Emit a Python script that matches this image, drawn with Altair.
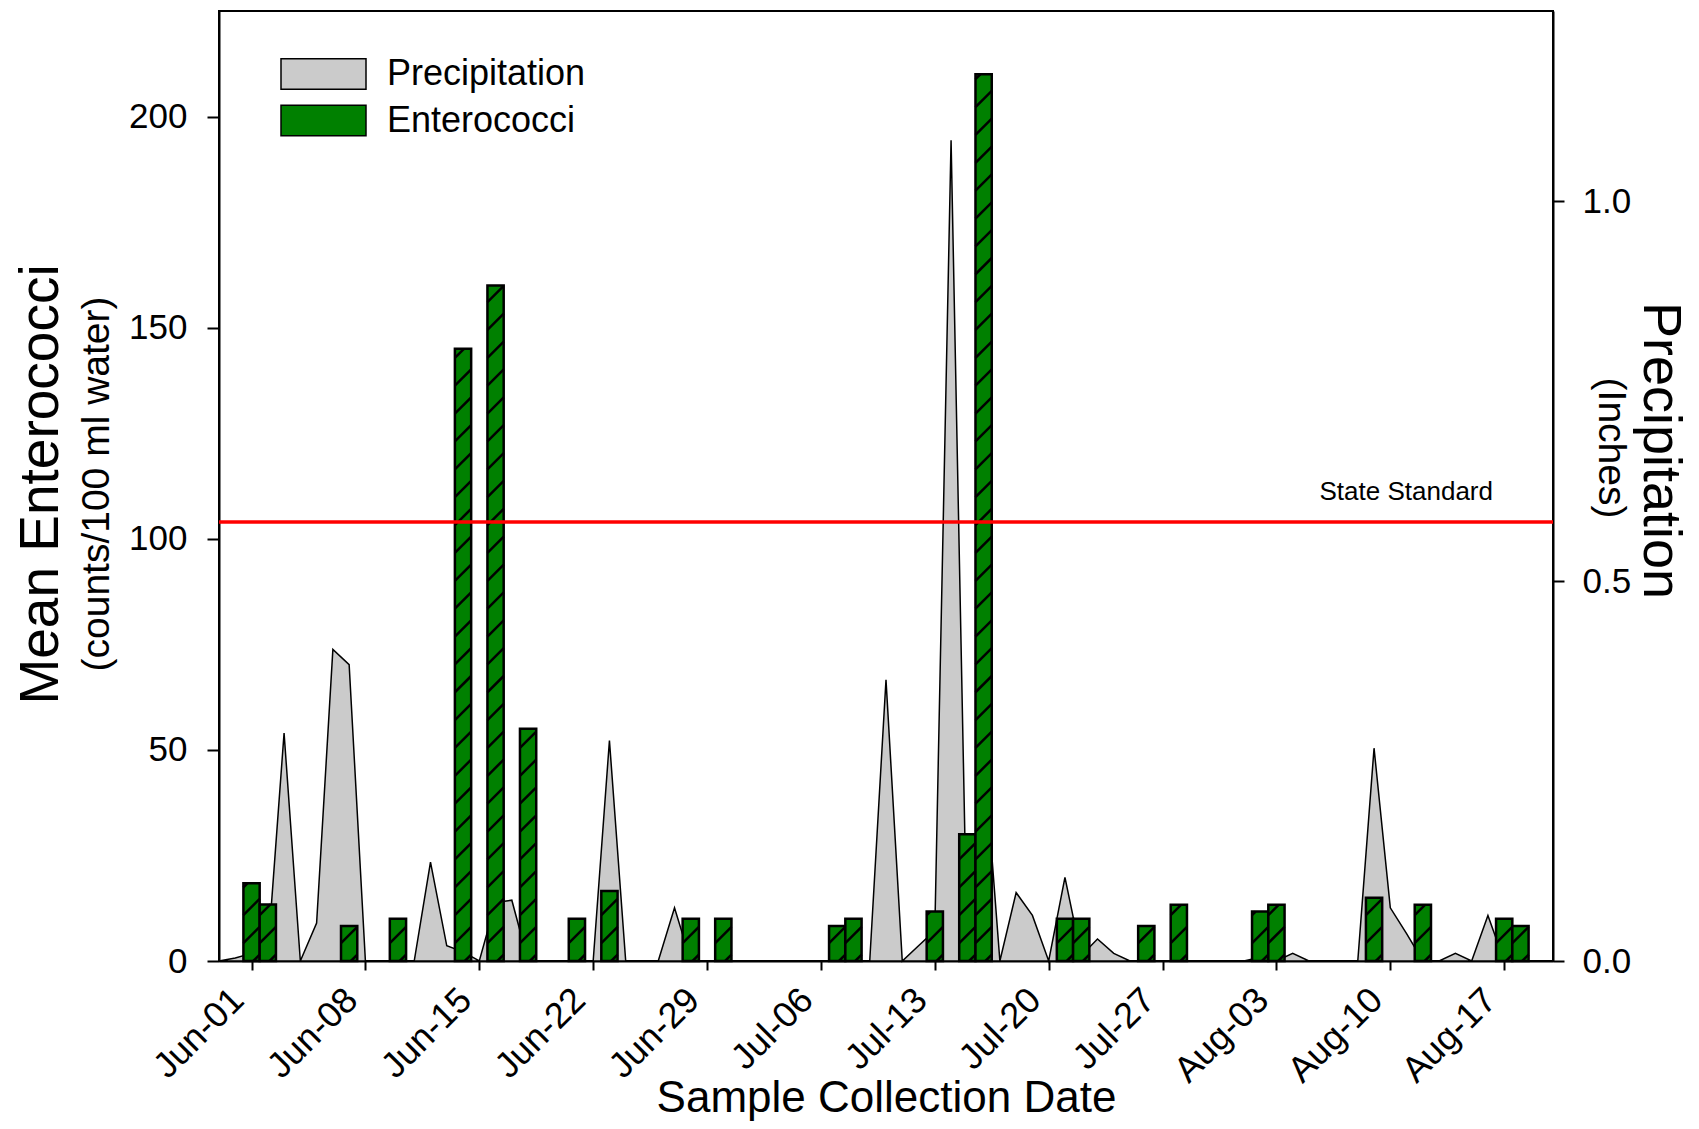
import altair as alt
import pandas as pd

FONT = "Liberation Sans"
YEAR = 2010

# ---------------- data ----------------
entero_dates = ["06-01", "06-02", "06-07", "06-10", "06-14", "06-16", "06-18", "06-21",
                "06-23", "06-28", "06-30", "07-07", "07-08", "07-13", "07-15", "07-16",
                "07-21", "07-22", "07-26", "07-28", "08-02", "08-03", "08-09", "08-12",
                "08-17", "08-18"]
entero_values = [18.4, 13.4, 8.3, 10, 145, 160, 55, 10,
                 16.6, 10, 10, 8.3, 10, 11.7, 30, 210,
                 10, 10, 8.3, 13.3, 11.7, 13.3, 15, 13.3,
                 10, 8.3]

precip_first_day = "05-30"
precip_values = [
    # May 30-31
    0, 0.004,
    # June 1-30
    0.01, 0.01, 0.30, 0, 0.05, 0.41, 0.39, 0, 0, 0,
    0, 0.13, 0.02, 0.012, 0, 0.077, 0.08, 0, 0, 0,
    0, 0, 0.29, 0, 0, 0, 0.07, 0, 0, 0,
    # July 1-31
    0, 0, 0, 0, 0, 0, 0, 0, 0, 0.37,
    0, 0.02, 0.04, 1.08, 0, 0.28, 0, 0.09, 0.06, 0,
    0.11, 0.007, 0.029, 0.01, 0, 0, 0, 0, 0, 0, 0,
    # August 1-20
    0, 0.005, 0, 0.01, 0, 0, 0, 0, 0.28, 0.07,
    0.036, 0, 0, 0.01, 0, 0.06, 0, 0, 0, 0,
]

tick_dates = ["06-01", "06-08", "06-15", "06-22", "06-29", "07-06", "07-13",
              "07-20", "07-27", "08-03", "08-10", "08-17"]
x_domain = ["05-30", "08-20"]
entero_ticks = [0, 50, 100, 150, 200]
entero_domain = [0, 225]
precip_ticks = [0, 0.5, 1.0]
precip_domain = [0, 1.25]
STATE_STANDARD = 104

series_names = ["Precipitation", "Enterococci"]
series_colors = ["#cbcbcb", "#008000"]

# ---------------- helpers ----------------
def ts(md):
    return pd.Timestamp(f"{YEAR}-{md}")

def iso(t):
    return t.strftime("%Y-%m-%dT%H:%M:%S")

def dt(md):
    m, d = md.split("-")
    return alt.DateTime(year=YEAR, month=int(m), date=int(d))

DAY = pd.Timedelta(days=1)

precip_df = pd.DataFrame({
    "date": [iso(d) for d in pd.date_range(ts(precip_first_day), periods=len(precip_values), freq="D")],
    "precip": precip_values,
    "series": "Precipitation",
})

bar_df = pd.DataFrame({
    "start": [iso(ts(m) - DAY / 2) for m in entero_dates],
    "end": [iso(ts(m) + DAY / 2) for m in entero_dates],
    "count": entero_values,
    "series": "Enterococci",
})

# diagonal hatch lines inside each bar (style pattern, derived from the bar values)
HATCH_STEP = 6.6
HATCH_RISE = 3.85
hatch_rows = []
for m, v in zip(entero_dates, entero_values):
    left = ts(m) - DAY / 2
    k = 0
    while True:
        ys = k * HATCH_STEP - HATCH_RISE + 1.5
        if ys >= v:
            break
        t0 = max(0.0, -ys / HATCH_RISE)
        t1 = min(1.0, (v - ys) / HATCH_RISE)
        if t1 > t0:
            hatch_rows.append({
                "x0": iso(left + t0 * DAY), "x1": iso(left + t1 * DAY),
                "y0": ys + t0 * HATCH_RISE, "y1": ys + t1 * HATCH_RISE,
            })
        k += 1
hatch_df = pd.DataFrame(hatch_rows)

std_df = pd.DataFrame({"standard": [STATE_STANDARD], "label": ["State Standard"]})

# ---------------- scales / axes ----------------
xscale = alt.Scale(domain=[dt(x_domain[0]), dt(x_domain[1])], nice=False)
y_ent = alt.Scale(domain=entero_domain, nice=False, zero=True)
y_pre = alt.Scale(domain=precip_domain, nice=False, zero=True)
color_scale = alt.Scale(domain=series_names, range=series_colors)

legend = alt.Legend(
    title=None, orient="none", legendX=61, legendY=46, padding=0,
    symbolType="M-1,-0.36L1,-0.36L1,0.36L-1,0.36Z", symbolSize=7225,
    symbolStrokeColor="black", symbolStrokeWidth=1.5, symbolOpacity=1,
    labelFontSize=36, labelFont=FONT, labelColor="black", labelOffset=20,
    labelLimit=500, clipHeight=34, rowPadding=10.5,
)

x_axis = alt.Axis(
    values=[dt(t) for t in tick_dates], format="%b-%d",
    labelAngle=315, labelAlign="right", labelBaseline="middle",
    labelFontSize=36, labelPadding=24, labelOffset=-14, tickSize=9, tickWidth=2, domainWidth=2,
    title="Sample Collection Date", titleFontSize=44, titleX=667, titleY=150,
    titleBaseline="alphabetic", titleAlign="center", grid=False,
)

ent_axis = alt.Axis(
    orient="left", values=entero_ticks, tickSize=12, tickWidth=2, domainWidth=2,
    labelFontSize=35, labelPadding=20, grid=False,
    title="Mean Enterococci", titleFontSize=55, titleAngle=270, titleAlign="center",
    titleBaseline="alphabetic", titleX=-162, titleY=473,
)

pre_axis = alt.Axis(
    orient="right", values=precip_ticks, format=".1f", tickSize=11, tickWidth=2, domainWidth=2,
    labelFontSize=35, labelPadding=18, grid=False,
    title="Precipitation", titleFontSize=54, titleAngle=90, titleAlign="center",
    titleBaseline="alphabetic", titleX=90, titleY=439,
)

# ---------------- layers ----------------
precip_area = alt.Chart(precip_df).mark_area(
    stroke="black", strokeWidth=1.5, interpolate="linear", opacity=1
).encode(
    x=alt.X("date:T", scale=xscale, axis=x_axis),
    y=alt.Y("precip:Q", scale=y_pre, axis=pre_axis),
    color=alt.Color("series:N", scale=color_scale, legend=legend),
)

bars = alt.Chart(bar_df).mark_bar(stroke="black", strokeWidth=2.5, opacity=1).encode(
    x=alt.X("start:T", scale=xscale, axis=x_axis),
    x2="end:T",
    y=alt.Y("count:Q", scale=y_ent, axis=ent_axis),
    y2=alt.datum(0),
    color=alt.Color("series:N", scale=color_scale, legend=legend),
)

hatch = alt.Chart(hatch_df).mark_rule(color="black", strokeWidth=2.5).encode(
    x=alt.X("x0:T", scale=xscale, axis=x_axis),
    x2="x1:T",
    y=alt.Y("y0:Q", scale=y_ent, axis=ent_axis),
    y2="y1:Q",
)

std_rule = alt.Chart(std_df).mark_rule(color="#ff0000", strokeWidth=3.5).encode(
    y=alt.Y("standard:Q", scale=y_ent, axis=ent_axis),
)

std_text = alt.Chart(std_df).mark_text(
    align="right", baseline="alphabetic", dy=-22, fontSize=26, font=FONT, color="black"
).encode(
    x=alt.value(1274),
    y=alt.Y("standard:Q", scale=y_ent, axis=ent_axis),
    text="label:N",
)

sub_df_left = pd.DataFrame({"t": ["(counts/100 ml water)"]})
sub_df_right = pd.DataFrame({"t": ["(Inches)"]})

sub_left = alt.Chart(sub_df_left).mark_text(
    angle=270, align="center", baseline="middle", fontSize=39, font=FONT, color="black"
).encode(x=alt.value(-122), y=alt.value(473), text="t:N")

sub_right = alt.Chart(sub_df_right).mark_text(
    angle=90, align="center", baseline="middle", fontSize=39, font=FONT, color="black"
).encode(x=alt.value(1392), y=alt.value(437), text="t:N")

entero_group = alt.layer(bars, hatch, std_rule, std_text, sub_left, sub_right)

chart = alt.layer(precip_area, entero_group).resolve_scale(y="independent").properties(
    width=1334, height=950,
    autosize=alt.AutoSizeParams(type="none"),
    padding={"left": 211, "top": 3, "right": 138, "bottom": 160},
).configure(font=FONT).configure_view(
    stroke="black", strokeWidth=2
).configure_axis(
    labelColor="black", titleColor="black", domainColor="black", tickColor="black",
    titleFontWeight="normal", labelFont=FONT, titleFont=FONT,
)

chart.save("out.html", embed_options={"renderer": "svg", "actions": False})
